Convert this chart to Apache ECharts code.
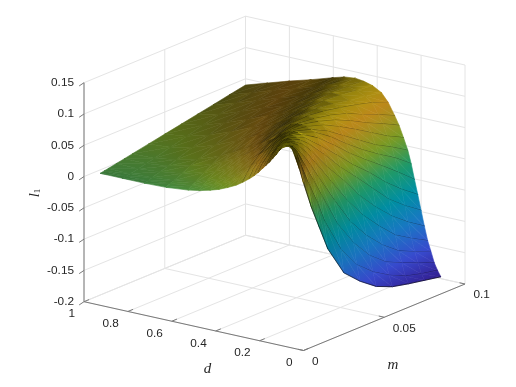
<!DOCTYPE html>
<html>
<head>
<meta charset="utf-8">
<script src="https://cdn.jsdelivr.net/npm/echarts@6/dist/echarts.min.js"></script>
<style>html,body{margin:0;padding:0;background:#fff}#chart{width:516px;height:387px}</style>
</head>
<body>
<div id="chart"></div>
<script>
// l1, one row per d, one column per m
const mValues = [0.01, 0.0125, 0.015, 0.02, 0.025, 0.03, 0.04, 0.05, 0.06, 0.07, 0.08, 0.09, 0.1];
const dValues = [1, 0.9, 0.8, 0.7, 0.6, 0.55, 0.5, 0.46, 0.42, 0.38, 0.35, 0.32, 0.3, 0.28, 0.26, 0.245, 0.23, 0.215, 0.2, 0.185, 0.17, 0.155, 0.14, 0.125, 0.11];
const l1Values = [
  [-0.0055, -0.0042, -0.003, -0.0005, 0.002, 0.0046, 0.0097, 0.0147, 0.0197, 0.0248, 0.0298, 0.035, 0.04],
  [-0.0055, -0.0048, -0.0035, -0.0008, 0.002, 0.005, 0.012, 0.019, 0.026, 0.033, 0.04, 0.046, 0.051],
  [-0.0055, -0.0042, -0.002, 0.002, 0.006, 0.011, 0.02, 0.029, 0.038, 0.045, 0.052, 0.058, 0.062],
  [-0.0045, -0.001, 0.001, 0.007, 0.014, 0.019, 0.031, 0.042, 0.051, 0.058, 0.064, 0.068, 0.072],
  [-0.001, 0.0035, 0.0075, 0.0165, 0.024, 0.032, 0.046, 0.057, 0.065, 0.07, 0.075, 0.079, 0.083],
  [0.002, 0.0075, 0.013, 0.0225, 0.032, 0.041, 0.0545, 0.064, 0.071, 0.077, 0.082, 0.086, 0.088],
  [0.0065, 0.013, 0.019, 0.03, 0.041, 0.05, 0.063, 0.071, 0.079, 0.084, 0.088, 0.089, 0.09],
  [0.011, 0.0185, 0.025, 0.038, 0.049, 0.0575, 0.069, 0.078, 0.085, 0.089, 0.091, 0.09, 0.088],
  [0.017, 0.025, 0.033, 0.0465, 0.0575, 0.065, 0.077, 0.086, 0.09, 0.092, 0.09, 0.087, 0.084],
  [0.024, 0.034, 0.043, 0.056, 0.066, 0.074, 0.086, 0.092, 0.093, 0.09, 0.085, 0.081, 0.076],
  [0.031, 0.042, 0.051, 0.064, 0.074, 0.08, 0.092, 0.094, 0.091, 0.086, 0.08, 0.073, 0.063],
  [0.039, 0.051, 0.059, 0.072, 0.082, 0.09, 0.095, 0.092, 0.087, 0.079, 0.067, 0.056, 0.044],
  [0.045, 0.056, 0.064, 0.078, 0.088, 0.094, 0.095, 0.089, 0.081, 0.069, 0.055, 0.043, 0.03],
  [0.052, 0.063, 0.07, 0.085, 0.094, 0.097, 0.093, 0.085, 0.072, 0.057, 0.041, 0.025, 0.012],
  [0.06, 0.07, 0.078, 0.092, 0.097, 0.098, 0.09, 0.077, 0.059, 0.041, 0.023, 0.009, -0.007],
  [0.066, 0.075, 0.084, 0.096, 0.1, 0.097, 0.087, 0.069, 0.047, 0.027, 0.009, -0.007, -0.027],
  [0.072, 0.083, 0.091, 0.099, 0.099, 0.095, 0.079, 0.057, 0.033, 0.012, -0.008, -0.029, -0.051],
  [0.079, 0.089, 0.097, 0.101, 0.097, 0.091, 0.067, 0.042, 0.016, -0.007, -0.033, -0.055, -0.074],
  [0.086, 0.097, 0.102, 0.1, 0.094, 0.083, 0.055, 0.024, -0.003, -0.031, -0.059, -0.08, -0.098],
  [0.094, 0.101, 0.103, 0.097, 0.088, 0.072, 0.036, 0.004, -0.031, -0.06, -0.085, -0.105, -0.122],
  [0.1, 0.105, 0.103, 0.093, 0.076, 0.056, 0.015, -0.026, -0.061, -0.089, -0.114, -0.13, -0.144],
  [0.104, 0.103, 0.099, 0.081, 0.059, 0.034, -0.014, -0.059, -0.092, -0.118, -0.138, -0.15, -0.16],
  [0.105, 0.101, 0.091, 0.063, 0.035, 0.006, -0.051, -0.092, -0.123, -0.144, -0.156, -0.167, -0.177],
  [0.102, 0.092, 0.073, 0.036, 0.003, -0.035, -0.09, -0.126, -0.148, -0.164, -0.176, -0.183, -0.188],
  [0.091, 0.068, 0.043, -0.002, -0.04, -0.078, -0.127, -0.151, -0.17, -0.181, -0.187, -0.192, -0.197]
];
const mTicks = [0, 0.05, 0.1];
const mTickLabels = ['0', '0.05', '0.1'];
const dTicks = [0, 0.2, 0.4, 0.6, 0.8, 1];
const dTickLabels = ['0', '0.2', '0.4', '0.6', '0.8', '1'];
const zTicks = [-0.2, -0.15, -0.1, -0.05, 0, 0.05, 0.1, 0.15];
const zTickLabels = ['-0.2', '-0.15', '-0.1', '-0.05', '0', '0.05', '0.1', '0.15'];

const parula = [[0, .25, .15, .72], [.14, .27, .36, 1], [.29, .12, .58, .95], [.43, 0, .70, .80],
  [.57, .15, .76, .52], [.71, .62, .78, .18], [.86, 1, .72, .14], [1, 1, .98, .05]];
const zMin = -0.197, zMax = 0.105;
const fontName = '"Liberation Sans", Arial, sans-serif';

// view of the box: m and d axes along the floor, z straight up
function project(m, d, z) {
  return [303.5 + 1615 * m - 219.5 * d, 350.5 - 665 * m - 48.8 * d - 625.7 * (z + 0.2)];
}

function colorAt(z, shade) {
  let t = Math.min(1, Math.max(0, (z - zMin) / (zMax - zMin)));
  let k = 1;
  while (k < parula.length - 1 && parula[k][0] < t) k++;
  let a = parula[k - 1], b = parula[k], f = (t - a[0]) / (b[0] - a[0]);
  let c = [1, 2, 3].map(function(n) {
    return Math.round(255 * shade * (a[n] + (b[n] - a[n]) * f));
  });
  return 'rgb(' + c.join(',') + ')';
}

function vertex(i, j) {
  return project(mValues[j], dValues[i], l1Values[i][j]);
}

// the mesh is far finer than the table, its black lines darken each cell
function cellCover(i, j) {
  let a = vertex(i, j), b = vertex(i, j + 1), c = vertex(i + 1, j + 1), e = vertex(i + 1, j);
  let nm = (mValues[j + 1] - mValues[j]) / 0.001;
  let nd = (dValues[i] - dValues[i + 1]) / 0.01;
  let vm = [(b[0] - a[0] + c[0] - e[0]) / 2 / nm, (b[1] - a[1] + c[1] - e[1]) / 2 / nm];
  let vd = [(e[0] - a[0] + c[0] - b[0]) / 2 / nd, (e[1] - a[1] + c[1] - b[1]) / 2 / nd];
  let area = Math.abs(vm[0] * vd[1] - vm[1] * vd[0]) + 0.01;
  let s1 = area / Math.hypot(vm[0], vm[1]), s2 = area / Math.hypot(vd[0], vd[1]);
  let w = 0.42;
  return Math.pow(1 - (1 - Math.min(1, w / s1)) * (1 - Math.min(1, w / s2)), 1.4);
}

// shade per table point, the mean of the cells around it
let vertexShade = dValues.map(function(d, i) {
  return mValues.map(function(m, j) {
    let sum = 0, n = 0;
    for (let a = i - 1; a <= i; a++) {
      for (let b = j - 1; b <= j; b++) {
        if (a >= 0 && b >= 0 && a < dValues.length - 1 && b < mValues.length - 1) {
          sum += cellCover(a, b);
          n++;
        }
      }
    }
    return 1 - Math.min(0.8, sum / n);
  });
});

// a linear gradient over a triangle lands exactly on its three corner values
function triangleFill(pts, zs, shades) {
  let dx1 = pts[1][0] - pts[0][0], dy1 = pts[1][1] - pts[0][1];
  let dx2 = pts[2][0] - pts[0][0], dy2 = pts[2][1] - pts[0][1];
  let det = dx1 * dy2 - dx2 * dy1;
  let zAvg = (zs[0] + zs[1] + zs[2]) / 3, sAvg = (shades[0] + shades[1] + shades[2]) / 3;
  let zLow = Math.min(zs[0], zs[1], zs[2]), zHigh = Math.max(zs[0], zs[1], zs[2]);
  if (Math.abs(det) < 0.5 || zHigh - zLow < 0.0003) return colorAt(zAvg, sAvg);
  let dz1 = zs[1] - zs[0], dz2 = zs[2] - zs[0];
  let a = (dz1 * dy2 - dz2 * dy1) / det, b = (dx1 * dz2 - dx2 * dz1) / det;
  let ds1 = shades[1] - shades[0], ds2 = shades[2] - shades[0];
  let sa = (ds1 * dy2 - ds2 * dy1) / det, sb = (dx1 * ds2 - dx2 * ds1) / det;
  let g2 = a * a + b * b;
  let cx = (pts[0][0] + pts[1][0] + pts[2][0]) / 3, cy = (pts[0][1] + pts[1][1] + pts[2][1]) / 3;
  let stops = [];
  for (let k = 0; k <= 6; k++) {
    let z = zLow + (zHigh - zLow) * k / 6;
    let px = (z - zAvg) * a / g2, py = (z - zAvg) * b / g2;
    let s = sAvg + sa * px + sb * py;
    stops.push({offset: k / 6, color: colorAt(z, Math.min(1, Math.max(0.2, s)))});
  }
  return new echarts.graphic.LinearGradient(
    cx + (zLow - zAvg) * a / g2, cy + (zLow - zAvg) * b / g2,
    cx + (zHigh - zAvg) * a / g2, cy + (zHigh - zAvg) * b / g2, stops, true);
}

// back to front, so nearer cells paint over farther ones
let cells = [];
for (let i = 0; i < dValues.length - 1; i++) {
  for (let j = mValues.length - 2; j >= 0; j--) cells.push([i, j]);
}

function renderCell(params, api) {
  let i = api.value(0), j = api.value(1);
  let corners = [[i, j], [i, j + 1], [i + 1, j + 1], [i + 1, j]];
  let zs = corners.map(function(c) { return l1Values[c[0]][c[1]]; });
  let shades = corners.map(function(c) { return vertexShade[c[0]][c[1]]; });
  let pts = corners.map(function(c) {
    return api.coord(project(mValues[c[1]], dValues[c[0]], l1Values[c[0]][c[1]]));
  });
  let children = [[0, 1, 2], [0, 2, 3]].map(function(t) {
    let fill = triangleFill(t.map(function(k) { return pts[k]; }), t.map(function(k) { return zs[k]; }), t.map(function(k) { return shades[k]; }));
    return {
      type: 'polygon',
      shape: {points: t.map(function(k) { return pts[k]; })},
      style: {fill: fill, stroke: fill, lineWidth: 0.6}
    };
  });
  if (dValues[i + 1] <= 0.36) {
    children.push({
      type: 'line',
      shape: {x1: pts[3][0], y1: pts[3][1], x2: pts[2][0], y2: pts[2][1]},
      style: {stroke: 'rgba(0,0,0,0.75)', lineWidth: 0.8}
    });
  }
  return {type: 'group', children: children};
}

// box lines: [m0, d0, z0, m1, d1, z1, color]
const gridColor = '#e4e4e4', axisColor = '#7a7a7a';
let boxLines = [];
function addLine(m0, d0, z0, m1, d1, z1, color) { boxLines.push([m0, d0, z0, m1, d1, z1, color]); }
mTicks.forEach(function(m) {
  addLine(m, 0, -0.2, m, 1, -0.2, gridColor);
  addLine(m, 1, -0.2, m, 1, 0.15, gridColor);
});
dTicks.forEach(function(d) {
  addLine(0, d, -0.2, 0.1, d, -0.2, gridColor);
  addLine(0.1, d, -0.2, 0.1, d, 0.15, gridColor);
});
zTicks.forEach(function(z) {
  addLine(0, 1, z, 0.1, 1, z, gridColor);
  addLine(0.1, 1, z, 0.1, 0, z, gridColor);
});
addLine(0, 0, -0.2, 0, 1, -0.2, axisColor);
addLine(0, 0, -0.2, 0.1, 0, -0.2, axisColor);
addLine(0, 1, -0.2, 0, 1, 0.15, axisColor);
mTicks.forEach(function(m) { addLine(m, 0, -0.2, m, 0.025, -0.2, axisColor); });
dTicks.forEach(function(d) { addLine(0, d, -0.2, 0.0032, d, -0.2, axisColor); });
zTicks.forEach(function(z) { addLine(0, 1, z, -0.003, 1, z - 0.002, axisColor); });

function renderBoxLine(params, api) {
  let s = boxLines[params.dataIndex];
  let a = api.coord(project(s[0], s[1], s[2])), b = api.coord(project(s[3], s[4], s[5]));
  return {
    type: 'line',
    shape: {x1: a[0], y1: a[1], x2: b[0], y2: b[1]},
    style: {stroke: s[6], lineWidth: 1}
  };
}

// tick labels: [text, m, d, z, offset x, offset y, align]
let tickTexts = [];
mTicks.forEach(function(m, i) { tickTexts.push([mTickLabels[i], m, 0, -0.2, 8.5, 11, 'left']); });
dTicks.forEach(function(d, i) { tickTexts.push([dTickLabels[i], 0, d, -0.2, i === 0 ? -11 : -9, 12.5, 'right']); });
zTicks.forEach(function(z, i) { tickTexts.push([zTickLabels[i], 0, 1, z, -10, 0, 'right']); });

function renderTick(params, api) {
  let t = tickTexts[params.dataIndex];
  let p = api.coord(project(t[1], t[2], t[3]));
  return {
    type: 'text',
    x: p[0] + t[4], y: p[1] + t[5],
    style: {text: t[0], fill: '#262626', font: '11.8px ' + fontName, align: t[6], verticalAlign: 'middle'}
  };
}

let chart = echarts.init(document.getElementById('chart'), null, {renderer: 'canvas'});
const option = {
  animation: false,
  backgroundColor: '#fff',
  grid: {left: 0, right: 0, top: 0, bottom: 0},
  xAxis: {type: 'value', min: 0, max: 516, show: false},
  yAxis: {type: 'value', min: 0, max: 387, inverse: true, show: false},
  graphic: [
    {type: 'text', x: 207.5, y: 369, style: {text: 'd', fill: '#262626', font: 'italic 15px "Liberation Serif", serif', align: 'center', verticalAlign: 'middle'}},
    {type: 'text', x: 393, y: 365, style: {text: 'm', fill: '#262626', font: 'italic 15px "Liberation Serif", serif', align: 'center', verticalAlign: 'middle'}},
    {
      type: 'text', x: 35, y: 193, rotation: Math.PI / 2,
      style: {
        text: '{a|l}{b|1}', align: 'center', verticalAlign: 'middle',
        rich: {
          a: {fill: '#262626', font: 'italic 15px "Liberation Serif", serif'},
          b: {fill: '#262626', font: '9px "Liberation Serif", serif', verticalAlign: 'bottom'}
        }
      }
    }
  ],
  series: [
    {type: 'custom', coordinateSystem: 'cartesian2d', silent: true, clip: false, z: 1, renderItem: renderBoxLine, data: boxLines.map(function(s, i) { return [i]; }), encode: {x: 0}},
    {type: 'custom', coordinateSystem: 'cartesian2d', silent: true, clip: false, z: 2, renderItem: renderCell, data: cells, encode: {x: 0, y: 1}},
    {type: 'custom', coordinateSystem: 'cartesian2d', silent: true, clip: false, z: 3, renderItem: renderTick, data: tickTexts.map(function(t, i) { return [i]; }), encode: {x: 0}}
  ]
};
chart.setOption(option);
</script>
</body>
</html>
